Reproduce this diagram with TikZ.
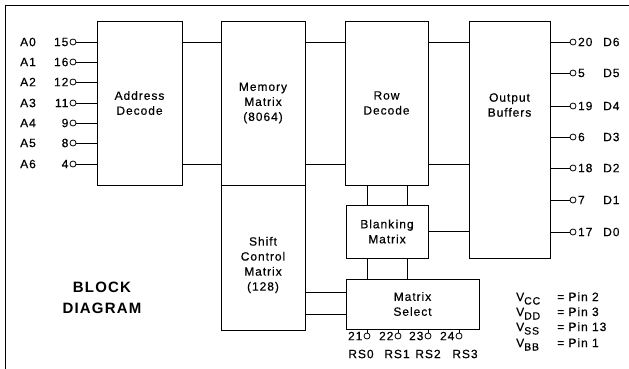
\documentclass[tikz,border=0pt]{standalone}
\usepackage{fontspec}
\setmainfont[LetterSpace=8, FakeBold=0.4]{Liberation Sans}
\newfontfamily\titlefont[LetterSpace=8]{Liberation Sans}
\usetikzlibrary{positioning}

\newcommand{\lbl}{\fontsize{12}{15}\selectfont}
\tikzset{
  blk/.style={draw, line width=0.9pt, anchor=north west, inner sep=0pt, outer sep=0pt, align=center},
  pin/.style={circle, draw, fill=white, line width=0.8pt, inner sep=0pt, minimum size=6pt},
  wire/.style={line width=0.9pt},
}

\begin{document}
\begin{tikzpicture}[x=1pt, y=-1pt, font=\lbl]
  \useasboundingbox (0,0) rectangle (629,369);
  % frame
  \draw[wire] (5,369) -- (5,5) -- (629,5);
  % blocks
  \node[blk, minimum width=85pt, minimum height=164pt] (addr) at (97,21) {Address\\Decode};
  \node[blk, minimum width=84pt, minimum height=164pt] (mem) at (221,21) {Memory\\Matrix\\(8064)};
  \node[blk, minimum width=84pt, minimum height=145pt] (shift) at (221,185) {};
  \node[blk, minimum width=83pt, minimum height=164pt] (row) at (345,21) {Row\\Decode};
  \node[blk, minimum width=82pt, minimum height=53pt] (blank) at (346,205) {Blank\kern1.5pt ing\\Matrix};
  \node[blk, minimum width=133pt, minimum height=50pt] (msel) at (346,279) {Matrix\\Select};
  \node[blk, minimum width=81pt, minimum height=237pt] (obuf) at (469,21) {};
  \node[align=center] (obuftxt) at (509.5,105) {Output\\Buffers};
  \node[align=center] (shifttxt) at (263,265) {Shift\\Control\\Matrix\\(128)};
  % address inputs
  \foreach \i/\pnum/\yy in {0/15/42, 1/16/62, 2/12/82, 3/11/103, 4/9/123, 5/8/143, 6/4/164}{
    \node[pin] (a\i) at (73,\yy) {};
    \node[anchor=east, inner sep=1pt] (an\i) at (a\i.west) {\pnum};
    \node[anchor=west, inner sep=0pt] (al\i) at (20,\yy) {A\i};
    \draw[wire] (a\i.east) -- (a\i -| addr.west);
  }
  % data outputs
  \foreach \i/\pnum/\yy in {6/20/42, 5/5/73, 4/19/106, 3/6/137, 2/18/168, 1/7/200, 0/17/232}{
    \node[pin] (d\i) at (573,\yy) {};
    \node[anchor=west, inner sep=1.5pt] (dn\i) at (d\i.east) {\pnum};
    \node[anchor=west, inner sep=0pt] (dl\i) at (603,\yy) {D\i};
    \draw[wire] (d\i -| obuf.east) -- (d\i.west);
  }
  % data paths between blocks
  \foreach \src/\dst in {addr/mem, mem/row, row/obuf}{
    \draw[wire] (a0 -| \src.east) -- (a0 -| \dst.west);
    \draw[wire] (a6 -| \src.east) -- (a6 -| \dst.west);
  }
  \foreach \dx in {21,61}{
    \draw[wire] ([xshift=\dx pt]blank.north west) -- ([xshift=\dx pt]blank.north west |- row.south);
    \draw[wire] ([xshift=\dx pt]blank.south west) -- ([xshift=\dx pt]blank.south west |- msel.north);
  }
  \draw[wire] (blank.east) -- (blank.east -| obuf.west);
  \foreach \dy in {13,35}{
    \draw[wire] ([yshift=-\dy pt]msel.north west) -- ([yshift=-\dy pt]msel.north west -| shift.east);
  }
  % row select pins
  \foreach \i/\pnum/\xx/\lx in {0/21/367/361, 1/22/398/397, 2/23/428/428, 3/24/459/465}{
    \node[pin] (r\i) at (\xx,336) {};
    \draw[wire] (r\i.north) -- (r\i |- msel.south);
    \node[anchor=east, inner sep=1pt] (rn\i) at (r\i.west) {\pnum};
    \node[inner sep=0pt] (rl\i) at (\lx,354) {RS\i};
  }
  % title
  \node[font=\titlefont\fontsize{15}{21}\selectfont\bfseries, align=center] (title) at (102,298) {BLOCK\\DIAGRAM};
  % supply pins
  \foreach \nm/\pnum/\yy in {CC/2/301, DD/3/316, SS/13/331, BB/1/347}{
    \node[anchor=base west, inner sep=0pt] (v\nm) at (516,\yy) {V\raisebox{-3.5pt}{\fontsize{10.5}{11}\selectfont\nm}};
    \node[anchor=base west, inner sep=0pt] (p\nm) at (557,\yy) {= Pin \pnum};
  }
\end{tikzpicture}
\end{document}
